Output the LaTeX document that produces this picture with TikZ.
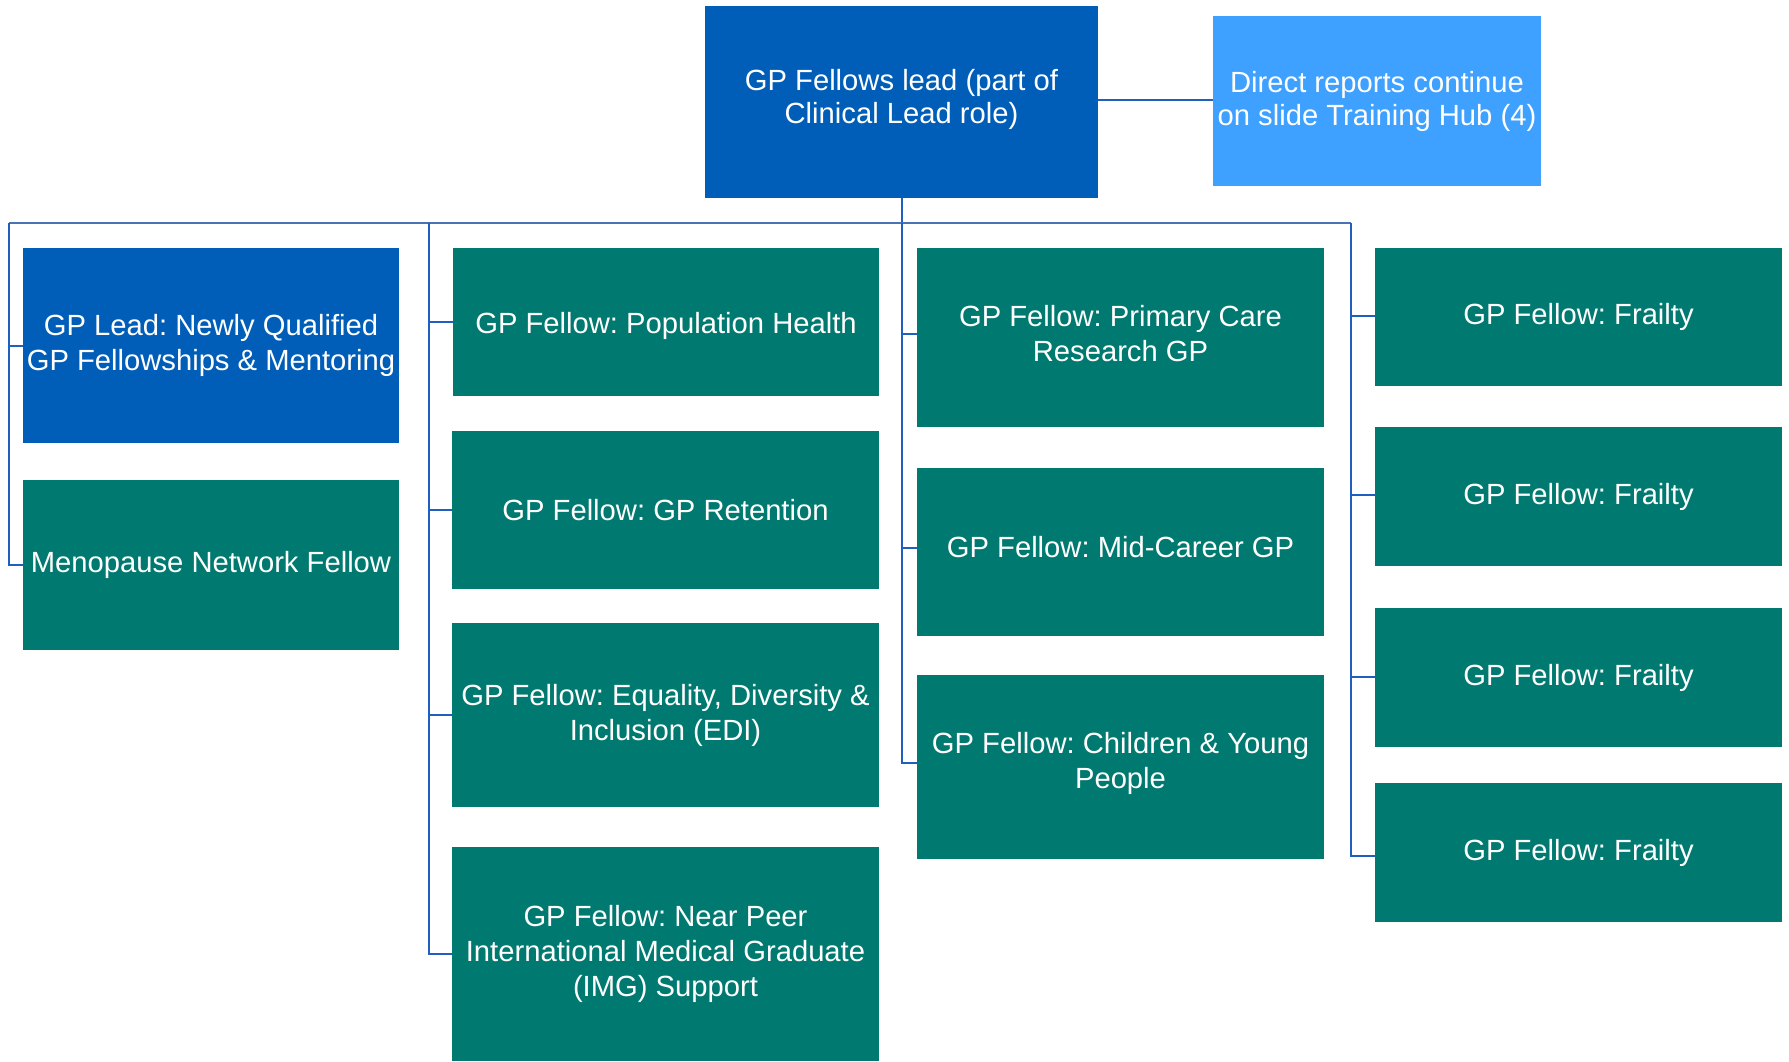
\documentclass[tikz,border=0pt]{standalone}
\usepackage{fontspec}
\setmainfont{Liberation Sans}
\frenchspacing
\definecolor{nhsblue}{HTML}{005EB8}
\definecolor{lightblue}{HTML}{3EA0FF}
\definecolor{teal}{HTML}{007A70}
\definecolor{linkblue}{HTML}{1F5FBF}
\definecolor{busblue}{HTML}{4A72B6}
% invisible struts used to nudge the text inside a box
\newcommand\lowstrut[1]{\rule[-#1]{0pt}{#1}}
\newcommand\highstrut[1]{\rule{0pt}{#1}}
\tikzset{
  box/.style={rectangle, inner sep=0pt, text=white, align=center,
    font=\fontsize{29.2}{35}\selectfont\frenchspacing},
  leadbox/.style={box, fill=nhsblue},
  fellowbox/.style={box, fill=teal},
  notebox/.style={box, fill=lightblue},
  link/.style={draw=linkblue, line width=2pt},
  bus/.style={draw=busblue, line width=2pt},
}
\begin{document}
\begin{tikzpicture}[x=1pt,y=-1pt]
\fill[white] (0,0) rectangle (1789,1061);
\useasboundingbox (0,0) rectangle (1789,1061);

% top level
\node[leadbox, minimum width=393pt, minimum height=192pt] (top) at (901.5,102) {GP Fellows lead (part of\\[-2pt]Clinical Lead role)\lowstrut{12pt}};
\node[notebox, minimum width=328pt, minimum height=170pt] (note) at (1377,101) {Direct reports continue\\[-2pt]on slide Training Hub (4)};

% column 1
\node[leadbox, minimum width=376pt, minimum height=195pt] (nq) at (211,345.5) {GP Lead: Newly Qualified\\GP Fellowships \& Mentoring};
\node[fellowbox, minimum width=376pt, minimum height=170pt] (meno) at (211,565) {Menopause Network Fellow};

% column 2
\node[fellowbox, minimum width=426pt, minimum height=148pt] (pop) at (666,322) {\highstrut{30pt}GP Fellow: Population Health};
\node[fellowbox, minimum width=427pt, minimum height=158pt] (ret) at (665.5,510) {GP Fellow: GP Retention};
\node[fellowbox, minimum width=427pt, minimum height=184pt] (edi) at (665.5,715) {GP Fellow: Equality, Diversity \&\\Inclusion (EDI)};
\node[fellowbox, minimum width=427pt, minimum height=214pt] (img) at (665.5,954) {GP Fellow: Near Peer\\International Medical Graduate\\(IMG) Support};

% column 3
\node[fellowbox, minimum width=407pt, minimum height=179pt] (res) at (1120.5,337.5) {GP Fellow: Primary Care\\Research GP\lowstrut{9pt}};
\node[fellowbox, minimum width=407pt, minimum height=168pt] (mid) at (1120.5,552) {GP Fellow: Mid-Career GP\lowstrut{11pt}};
\node[fellowbox, minimum width=407pt, minimum height=184pt] (cyp) at (1120.5,767) {GP Fellow: Children \& Young\\People\lowstrut{13pt}};

% column 4
\node[fellowbox, minimum width=407pt, minimum height=138pt] (f1) at (1578.5,317) {GP Fellow: Frailty};
\node[fellowbox, minimum width=407pt, minimum height=139pt] (f2) at (1578.5,496.5) {GP Fellow: Frailty};
\node[fellowbox, minimum width=407pt, minimum height=139pt] (f3) at (1578.5,677.5) {GP Fellow: Frailty};
\node[fellowbox, minimum width=407pt, minimum height=139pt] (f4) at (1578.5,852.5) {GP Fellow: Frailty};

% bus coordinates
\coordinate (b1) at (9,223);
\coordinate (b2) at (429,223);
\coordinate (b3) at (901.5,223);
\coordinate (b4) at (1351,223);

% connectors
\draw[link] (top.east |- 0,100) -- (note.west |- 0,100);
\draw[link] (top.south) -- (b3);
\draw[bus] (b1) -- (b4);

\draw[link] (b1) |- (nq.west);
\draw[link] (b1) |- (meno.west);

\draw[link] (b2) |- (pop.west);
\draw[link] (b2) |- (ret.west);
\draw[link] (b2) |- (edi.west);
\draw[link] (b2) |- (img.west);

\draw[link] (b3) |- ([yshift=4pt]res.west);
\draw[link] (b3) |- ([yshift=4pt]mid.west);
\draw[link] (b3) |- ([yshift=4pt]cyp.west);

\draw[link] (b4) |- ([yshift=1pt]f1.west);
\draw[link] (b4) |- ([yshift=2pt]f2.west);
\draw[link] (b4) |- ([yshift=1pt]f3.west);
\draw[link] (b4) |- ([yshift=-3pt]f4.west);
\end{tikzpicture}
\end{document}
